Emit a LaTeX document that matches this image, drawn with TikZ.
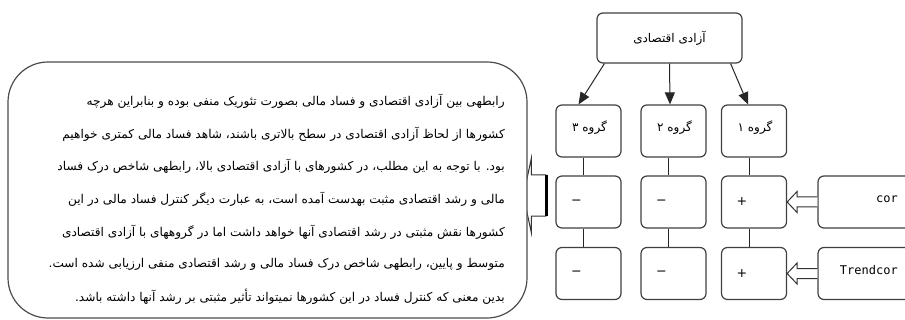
\documentclass[tikz,border=0pt]{standalone}
\usepackage{fontspec}
\usetikzlibrary{calc,arrows.meta}
\TeXXeTstate=1
\setmainfont{DejaVu Sans}
\newfontfamily\fafont[Script=Arabic]{DejaVu Sans}
\newfontfamily\latinmono{DejaVu Sans Mono}
\begin{document}
\begin{tikzpicture}[x=0.75pt,y=-0.75pt,
  box/.style={draw=black!75, line width=0.9pt, rounded corners=4.5pt, fill=white, inner sep=0pt,
              minimum width=48.75pt, minimum height=39pt},
  topbox/.style={box, minimum width=108.75pt, minimum height=37.5pt},
  varbox/.style={box, minimum width=106.5pt},
  link/.style={draw=black!85, line width=0.75pt},
  arr/.style={link, -{Triangle[length=9pt,width=7.5pt]}},
  blockarr/.style={draw=black!80, line width=0.75pt, fill=white},
  fa/.style={font=\fafont\fontsize{9}{11}\selectfont, inner sep=0pt},
  para/.style={font=\fafont\fontsize{9.1}{11}\selectfont, inner sep=0pt, anchor=east},
  sign/.style={font=\fontsize{9.5}{11}\selectfont, inner sep=0pt},
  lat/.style={font=\latinmono\fontsize{9}{11}\selectfont, inner sep=0pt, anchor=east}
]
\clip (0,0) rectangle (905,320);
\fill[white] (0,0) rectangle (905,320);

% top node
\node[topbox] (top) at (669.5,38) {};
\node[fa] at (top) {\beginR آزادی اقتصادی\endR};

% group row
\node[box] (g3) at (588.5,131) {};
\node[box] (g2) at (673.5,131) {};
\node[box] (g1) at (754,131) {};
\node[fa] at ($(g3)+(1,-3)$) {\beginR گروه ۳\endR};
\node[fa] at ($(g2)+(1,-3)$) {\beginR گروه ۲\endR};
\node[fa] at ($(g1)+(1,-3)$) {\beginR گروه ۱\endR};

% second row
\node[box] (a3) at (588.5,202) {};
\node[box] (a2) at (673.5,202) {};
\node[box] (a1) at (754,202) {};
% third row
\node[box] (b3) at (588.5,273.5) {};
\node[box] (b2) at (673.5,273.5) {};
\node[box] (b1) at (754,273.5) {};

\node[sign] at ($(a3.west)+(21,0)$) {−};
\node[sign] at ($(a2.west)+(21,0)$) {−};
\node[sign] at ($(a1.west)+(21,0)$) {+};
\node[sign] at ($(b3.west)+(21,0)$) {−};
\node[sign] at ($(b2.west)+(21,0)$) {−};
\node[sign] at ($(b1.west)+(21,0)$) {+};

% variable boxes
\node[varbox] (cor) at (889,202) {};
\node[varbox] (trend) at (889,273.5) {};
\node[lat] at (898,199) {cor};
\node[lat] at (898,270) {Trendcor};

% arrows from top
\draw[arr] ($(top.south west)+(8,0)$) -- ($(g3.north)+(-10,0)$);
\draw[arr] (top.south) -- ($(g2.north)+(-3.5,0)$);
\draw[arr] ($(top.south east)+(-12,0)$) -- ($(g1.north)+(-6,0)$);

% vertical links
\foreach \c/\k in {g3/a3,g2/a2,g1/a1}{
  \draw[link] ($(\c.south)+(-5,0)$) -- ($(\k.north)+(-5,0)$);
}
\foreach \c/\k in {a3/b3,a2/b2,a1/b1}{
  \draw[link] ($(\c.south)+(-5,0)$) -- ($(\k.north)+(-5,0)$);
}

% block arrows from variable boxes
\foreach \v/\t in {cor/a1,trend/b1}{
  \draw[blockarr] ($(\v.west)+(0,-5)$) -- ($(\t.east)+(10,-5)$) -- ($(\t.east)+(10,-10.5)$)
     -- (\t.east) -- ($(\t.east)+(10,10.5)$) -- ($(\t.east)+(10,5)$) -- ($(\v.west)+(0,5)$);
}

% pointer from a3 to callout (drawn under the callout)
\coordinate (pe) at ($(a3.west)+(-9,-6.5)$);
\draw[blockarr] (pe) ++(0,-20.5) -- ++(-15,0) -- ++(0,-17) -- ++(-8,37.5) -- ++(8,37.5) -- ++(0,-17) -- ++(15,0);
\draw[black, line width=2.2pt] ($(pe)+(0,-20.5)$) -- ($(pe)+(0,20.5)$);

% callout
\node[draw=black!70, line width=0.9pt, rounded corners=30pt, fill=white,
      minimum width=389.25pt, minimum height=192pt, inner sep=0pt] (callout) at (267.5,190) {};

\node[para] at (505,101) {\beginR رابطهی بین آزادی اقتصادی و فساد مالی بصورت تئوریک منفی بوده و بنابراین هرچه\endR};
\node[para] at (505,134) {\beginR کشورها از لحاظ آزادی اقتصادی در سطح بالاتری باشند، شاهد فساد مالی کمتری خواهیم\endR};
\node[para] at (505,166) {\beginR بود. با توجه به این مطلب، در کشورهای با آزادی اقتصادی بالا، رابطهی شاخص درک فساد\endR};
\node[para] at (505,199) {\beginR مالی و رشد اقتصادی مثبت بهدست آمده است، به عبارت دیگر کنترل فساد مالی در این\endR};
\node[para] at (505,232) {\beginR کشورها نقش مثبتی در رشد اقتصادی آنها خواهد داشت اما در گروههای با آزادی اقتصادی\endR};
\node[para] at (505,264) {\beginR متوسط و پایین، رابطهی شاخص درک فساد مالی و رشد اقتصادی منفی ارزیابی شده است.\endR};
\node[para] at (505,297) {\beginR بدین معنی که کنترل فساد در این کشورها نمیتواند تأثیر مثبتی بر رشد آنها داشته باشد.\endR};
\end{tikzpicture}
\end{document}
